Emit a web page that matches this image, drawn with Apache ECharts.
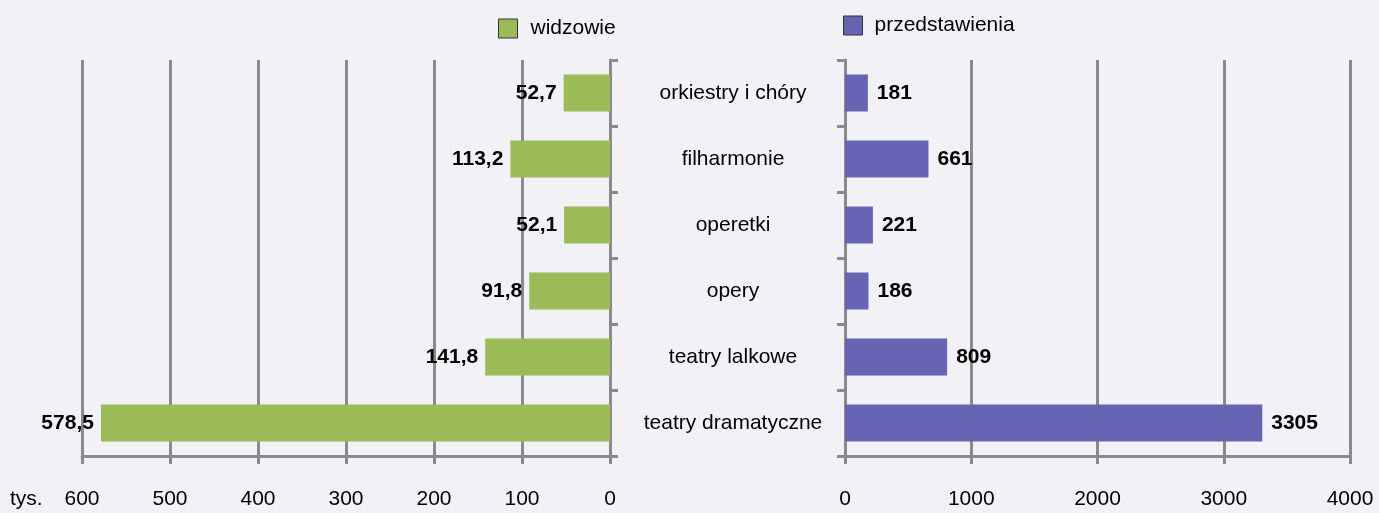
<!DOCTYPE html>
<html><head><meta charset="utf-8">
<script src="https://cdn.jsdelivr.net/npm/echarts@6/dist/echarts.min.js"></script>
<style>html,body{margin:0;padding:0;background:#f2f1f6;}#c{width:1379px;height:513px;}</style>
</head><body><div id="c"></div>
<script>
const categories = ['orkiestry i chóry','filharmonie','operetki','opery','teatry lalkowe','teatry dramatyczne'];
const widzowie = [52.7, 113.2, 52.1, 91.8, 141.8, 578.5];
const przedstawienia = [181, 661, 221, 186, 809, 3305];
const seriesNames = ['widzowie','przedstawienia'];
const unitLabel = 'tys.';

const FONT = '"Liberation Sans", Arial, sans-serif';
const FS = 21;
const GRAY = '#8a8a8a';
const chart = echarts.init(document.getElementById('c'));
const valAxisCommon = {
  type:'value', position:'bottom', min:0,
  axisLine:{show:true, lineStyle:{color:GRAY, width:3}},
  axisTick:{show:true, length:8, lineStyle:{color:GRAY, width:3}},
  splitLine:{show:true, lineStyle:{color:GRAY, width:3}},
  axisLabel:{color:'#000', fontSize:FS, fontFamily:FONT, margin:33, formatter:v=>String(v)}
};
const legendCommon = {itemWidth:19, itemHeight:19, icon:'rect',
  itemStyle:{borderColor:'#333', borderWidth:1}};
chart.setOption({
  backgroundColor:'#f2f1f6',
  animation:false,
  legend:[
    Object.assign({data:[seriesNames[0]], left:493, top:13,
      textStyle:{fontSize:FS, fontFamily:FONT, color:'#000', padding:[0,0,0,8]}}, legendCommon),
    Object.assign({data:[seriesNames[1]], left:838, top:10,
      textStyle:{fontSize:FS, fontFamily:FONT, color:'#000', padding:[0,0,0,7]}}, legendCommon)
  ],
  grid:[
    {left:82, right:769, top:60, bottom:57},
    {left:845, right:29, top:60, bottom:57}
  ],
  xAxis:[
    Object.assign({}, valAxisCommon, {gridIndex:0, inverse:true, max:600, interval:100}),
    Object.assign({}, valAxisCommon, {gridIndex:1, max:4000, interval:1000})
  ],
  yAxis:[
    {type:'category', gridIndex:0, data:categories, inverse:true, position:'right',
     axisLine:{show:true, lineStyle:{color:GRAY, width:3}},
     axisTick:{show:true, length:8, lineStyle:{color:GRAY, width:3}},
     axisLabel:{show:true, color:'#000', fontSize:FS, fontFamily:FONT, margin:123, align:'center'},
     splitLine:{show:false}},
    {type:'category', gridIndex:1, data:categories, inverse:true, position:'left',
     axisLine:{show:true, lineStyle:{color:GRAY, width:3}},
     axisTick:{show:true, length:8, lineStyle:{color:GRAY, width:3}},
     axisLabel:{show:false}, splitLine:{show:false}}
  ],
  graphic:[{type:'text', left:10, top:489, style:{text:unitLabel, fontSize:FS, fontFamily:FONT, fill:'#000'}}],
  series:[
    {name:seriesNames[0], type:'bar', xAxisIndex:0, yAxisIndex:0, data:widzowie, barWidth:37,
     itemStyle:{color:'#9bbb59'},
     label:{show:true, position:'left', distance:7, color:'#000', fontWeight:'bold', fontSize:FS, fontFamily:FONT,
            formatter:p=>p.value.toFixed(1).replace('.',',')}},
    {name:seriesNames[1], type:'bar', xAxisIndex:1, yAxisIndex:1, data:przedstawienia, barWidth:37,
     itemStyle:{color:'#6764b4'},
     label:{show:true, position:'right', distance:9, color:'#000', fontWeight:'bold', fontSize:FS, fontFamily:FONT}}
  ]
});
</script></body></html>
